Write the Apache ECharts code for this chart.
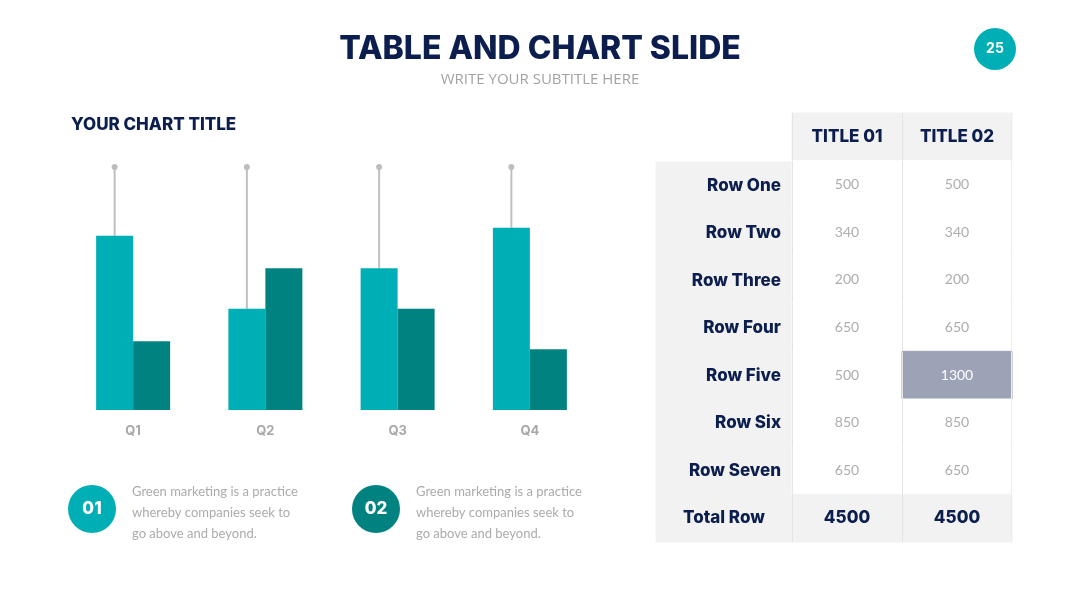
<!DOCTYPE html>
<html>
<head>
<meta charset="utf-8">
<title>Table and chart slide</title>
<script src="https://cdn.jsdelivr.net/npm/echarts@6/dist/echarts.min.js"></script>
<style>
  html, body { margin: 0; padding: 0; background: #ffffff; }
  #main { width: 1080px; height: 608px; }
</style>
</head>
<body>
<div id="main"></div>
<script>
// chart data
var quarters = ['Q1', 'Q2', 'Q3', 'Q4'];
var seriesA = [4.3, 2.5, 3.5, 4.5];
var seriesB = [1.7, 3.5, 2.5, 1.5];
var peak = [6, 6, 6, 6];

// table data
var tableHeads = ['TITLE 01', 'TITLE 02'];
var rowNames = ['Row One', 'Row Two', 'Row Three', 'Row Four', 'Row Five', 'Row Six', 'Row Seven'];
var col01 = [500, 340, 200, 650, 500, 850, 650];
var col02 = [500, 340, 200, 650, 1300, 850, 650];
var totalName = 'Total Row';
var totals = [4500, 4500];
var highlightCell = [1, 4]; // column, row

var NAVY = '#0c1e4d';
var TEAL = '#00afb5';
var DARK_TEAL = '#008281';
var BAR_W = 37;

var chart = echarts.init(document.getElementById('main'));

// cells of the value table: header, rows, total
var cells = [];
tableHeads.forEach(function (h, c) {
  cells.push({ value: [c, 0], text: h, kind: 'head' });
});
rowNames.forEach(function (n, r) {
  var vals = [col01[r], col02[r]];
  vals.forEach(function (v, c) {
    var hl = (c === highlightCell[0] && r === highlightCell[1]);
    cells.push({ value: [c, r + 1], text: String(v), kind: hl ? 'hl' : 'cell' });
  });
});
totals.forEach(function (v, c) {
  cells.push({ value: [c, rowNames.length + 1], text: String(v), kind: 'total' });
});

var labelRows = rowNames.concat([totalName]);

function renderValueCell(params, api) {
  var cell = cells[params.dataIndex];
  var p = api.coord([api.value(0), api.value(1)]);
  var s = api.size([1, 1]);
  var x = p[0] - s[0] / 2, y = p[1] - s[1] / 2;
  var fill = '#ffffff', color = '#adadad', font = 'normal 14px Lato';
  if (cell.kind === 'head' || cell.kind === 'total') {
    fill = '#f2f2f2'; color = NAVY; font = '800 17px Inter';
  } else if (cell.kind === 'hl') {
    fill = '#9ca3b6'; color = '#ffffff';
  }
  var children = [
    { type: 'rect', shape: { x: x, y: y, width: s[0], height: s[1] }, style: { fill: fill, stroke: fill, lineWidth: 1 } },
    { type: 'line', shape: { x1: x + 0.5, y1: y, x2: x + 0.5, y2: y + s[1] }, style: { stroke: '#e4e4e4', lineWidth: 1 } },
    { type: 'text', x: p[0], y: p[1], style: { text: cell.text, font: font, fill: color, align: 'center', verticalAlign: 'middle' } }
  ];
  if (api.value(0) === tableHeads.length - 1) {
    children.push({ type: 'line', shape: { x1: x + s[0] - 0.5, y1: y, x2: x + s[0] - 0.5, y2: y + s[1] }, style: { stroke: '#ececec', lineWidth: 1 } });
  }
  return { type: 'group', children: children };
}

function renderLabelCell(params, api) {
  var p = api.coord([0, api.value(1)]);
  var s = api.size([1, 1]);
  var x = p[0] - s[0] / 2, y = p[1] - s[1] / 2;
  var isTotal = api.value(1) === rowNames.length;
  return {
    type: 'group',
    children: [
      { type: 'rect', shape: { x: x, y: y, width: s[0], height: s[1] }, style: { fill: '#f2f2f2', stroke: '#f2f2f2', lineWidth: 1 } },
      {
        type: 'text',
        x: isTotal ? p[0] : x + s[0] - 11,
        y: p[1],
        style: { text: labelRows[params.dataIndex], font: '800 17px Inter', fill: NAVY, align: isTotal ? 'center' : 'right', verticalAlign: 'middle' }
      }
    ]
  };
}

function renderWhisker(params, api) {
  var half = BAR_W / 2;
  var bottom = api.coord([api.value(0), api.value(1)]);
  var top = api.coord([api.value(0), api.value(2)]);
  var x = bottom[0] - half;
  return {
    type: 'group',
    children: [
      { type: 'line', shape: { x1: x, y1: bottom[1], x2: x, y2: top[1] }, style: { stroke: '#c0c0c0', lineWidth: 2 } },
      { type: 'circle', shape: { cx: x, cy: top[1], r: 3 }, style: { fill: '#bdbdbd' } }
    ]
  };
}

var option = {
  backgroundColor: '#ffffff',
  animation: false,
  grid: [
    { left: 67, right: 484, top: 167, bottom: 198 },
    { left: 656, top: 162, width: 136, height: 380 },
    { left: 792, top: 113, width: 220, height: 429 }
  ],
  xAxis: [
    {
      gridIndex: 0, type: 'category', data: quarters,
      axisLine: { show: false }, axisTick: { show: false },
      axisLabel: { color: '#a8a8a8', fontFamily: 'Inter', fontWeight: 700, fontSize: 13, margin: 15 }
    },
    { gridIndex: 1, type: 'category', data: ['name'], show: false },
    { gridIndex: 2, type: 'category', data: tableHeads, show: false }
  ],
  yAxis: [
    { gridIndex: 0, type: 'value', min: 0, max: 6, show: false, splitLine: { show: false } },
    { gridIndex: 1, type: 'category', data: labelRows, inverse: true, show: false },
    { gridIndex: 2, type: 'category', data: ['head'].concat(rowNames, [totalName]), inverse: true, show: false }
  ],
  series: [
    {
      type: 'bar', xAxisIndex: 0, yAxisIndex: 0, data: seriesA,
      barWidth: BAR_W, barGap: '0%', itemStyle: { color: TEAL }
    },
    {
      type: 'bar', xAxisIndex: 0, yAxisIndex: 0, data: seriesB,
      barWidth: BAR_W, barGap: '0%', itemStyle: { color: DARK_TEAL }
    },
    {
      type: 'custom', xAxisIndex: 0, yAxisIndex: 0,
      data: quarters.map(function (q, i) { return [i, seriesA[i], peak[i]]; }),
      renderItem: renderWhisker, z: 1
    },
    {
      type: 'custom', xAxisIndex: 1, yAxisIndex: 1,
      data: labelRows.map(function (n, i) { return [0, i]; }),
      renderItem: renderLabelCell
    },
    {
      type: 'custom', xAxisIndex: 2, yAxisIndex: 2,
      data: cells.map(function (c) { return c.value; }),
      renderItem: renderValueCell
    }
  ],
  graphic: [
    { type: 'text', left: 'center', top: 33, style: { text: 'TABLE AND CHART SLIDE', font: '800 32px Inter', fill: NAVY } },
    { type: 'text', left: 'center', top: 72, style: { text: 'WRITE YOUR SUBTITLE HERE', font: 'normal 15px "Open Sans"', fill: '#a3a3a3' } },
    { type: 'circle', shape: { cx: 995, cy: 49, r: 21 }, style: { fill: TEAL } },
    { type: 'text', x: 995, y: 49, style: { text: '25', font: '700 14px Inter', fill: '#ffffff', align: 'center', verticalAlign: 'middle' } },
    { type: 'text', x: 71, y: 125, style: { text: 'YOUR CHART TITLE', font: '800 17px Inter', fill: NAVY, verticalAlign: 'middle' } },
    { type: 'circle', shape: { cx: 92, cy: 509, r: 24 }, style: { fill: TEAL } },
    { type: 'text', x: 92, y: 509, style: { text: '01', font: '800 17px Inter', fill: '#ffffff', align: 'center', verticalAlign: 'middle' } },
    { type: 'text', x: 132, y: 481, style: { text: 'Green marketing is a practice\nwhereby companies seek to\ngo above and beyond.', font: 'normal 13px Lato', fill: '#ababab', lineHeight: 21 } },
    { type: 'circle', shape: { cx: 376, cy: 509, r: 24 }, style: { fill: DARK_TEAL } },
    { type: 'text', x: 376, y: 509, style: { text: '02', font: '800 17px Inter', fill: '#ffffff', align: 'center', verticalAlign: 'middle' } },
    { type: 'text', x: 416, y: 481, style: { text: 'Green marketing is a practice\nwhereby companies seek to\ngo above and beyond.', font: 'normal 13px Lato', fill: '#ababab', lineHeight: 21 } }
  ]
};

chart.setOption(option);
</script>
</body>
</html>
